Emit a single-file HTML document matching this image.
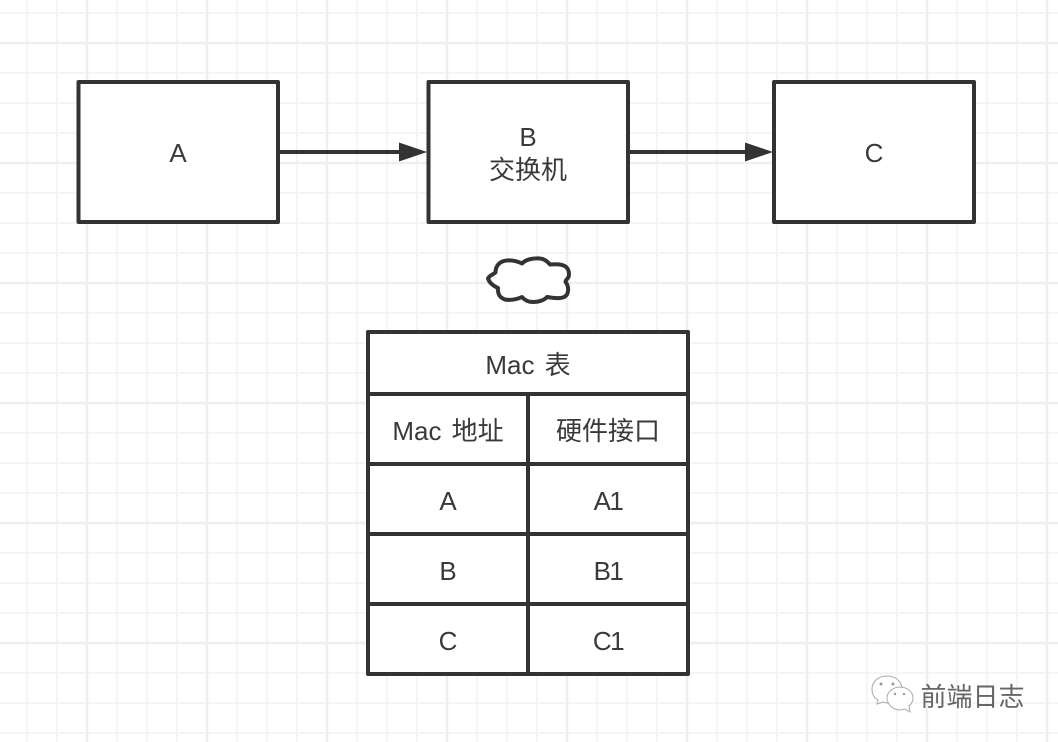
<!DOCTYPE html>
<html><head><meta charset="utf-8"><style>
html,body{margin:0;padding:0;background:#fff}
svg{display:block}
text{font-family:"Liberation Sans","Noto Sans CJK SC",sans-serif;font-size:26px;fill:#3a3a3a;text-anchor:middle}
.m{word-spacing:3px}
.d{letter-spacing:-1.500px}
</style></head><body>
<svg width="1058" height="742" viewBox="0 0 1058 742" xmlns="http://www.w3.org/2000/svg">
<defs>
<pattern id="g" width="30" height="30" patternUnits="userSpaceOnUse" x="12" y="-2">
<path d="M15 0V30M0 15H30" stroke="#f5f5f5" stroke-width="2" fill="none"/>
</pattern>
<pattern id="G" width="120" height="120" patternUnits="userSpaceOnUse" x="27" y="-17">
<path d="M60 0V120M0 60H120" stroke="#efefef" stroke-width="2.500" fill="none"/>
</pattern>
</defs>
<rect width="1058" height="742" fill="#fff"/>
<rect width="1058" height="742" fill="url(#g)"/>
<rect width="1058" height="742" fill="url(#G)"/>
<g fill="#fff" stroke="#333" stroke-width="4" stroke-linejoin="round">
<rect x="78.500" y="82" width="199.500" height="140"/>
<rect x="428.500" y="82" width="199.500" height="140"/>
<rect x="774" y="82" width="200" height="140"/>
</g>
<g stroke="#333" stroke-width="4" fill="none">
<path d="M280 152H402"/><path d="M630 152H748"/>
</g>
<path d="M399 142.500L427 152L399 161.500Z M745 142.500L773 152L745 161.500Z" fill="#333"/>
<path d="M488 278.500C489.500 275.500 493 274.500 495.500 272.500C495.500 265.500 500 261 507 260.500C513 260 518 261.500 522 263.500C526 259 534 258 540 258.500C545 259 548 262 550 264.500C555 264 562 264 565.500 266.500C569 269 569.500 274 568.500 277C567.500 279 565.500 280 565.500 282C567.500 284 568.500 288 568 291C567.500 295.500 565 297.500 560 298C555 298.500 550 297.500 547 297C544 300.500 538 302 533 302C528 302 524 299.500 522 297C517 299.500 510 300.500 505 299.500C499.500 297.500 497.500 294 498 288C493.500 286 489.500 283 488 278.500Z" fill="#fff" stroke="#333" stroke-width="4" stroke-linejoin="round"/>
<g fill="#fff" stroke="#333" stroke-width="4" stroke-linejoin="round">
<rect x="368" y="332" width="320" height="342"/>
<path d="M368 394H688M368 464H688M368 534H688M368 604H688M528 394V674" fill="none"/>
</g>
<text x="178" y="162">A</text>
<text x="528" y="146">B</text>
<text x="528" y="179">交换机</text>
<text x="874" y="162">C</text>
<text class="m" x="528" y="374">Mac 表</text>
<text class="m" x="448" y="440">Mac 地址</text>
<text x="608" y="440">硬件接口</text>
<text x="448" y="510">A</text><text class="d" x="608" y="510">A1</text>
<text x="448" y="580">B</text><text class="d" x="608" y="580">B1</text>
<text x="448" y="650">C</text><text class="d" x="608" y="650">C1</text>
<g fill="#fff" stroke="#aaa" stroke-width="1">
<path d="M887 676C878 676 872 682 872 689C872 694 874 698 878 700L877 704L883 702C884 702 886 703 888 703C897 703 902 696 902 689C902 682 896 676 887 676Z"/>
<path d="M900 687C893 687 887 692 887 698C887 704 893 710 900 710C902 710 904 709 905 709L910 712L909 706C911 704 913 702 913 698C913 692 907 687 900 687Z"/>
</g>
<g fill="#999"><circle cx="881" cy="684" r="1.500"/><circle cx="893" cy="684" r="1.500"/><circle cx="895" cy="694" r="1.200"/><circle cx="904" cy="694" r="1.200"/></g>
<text x="972.500" y="706" style="font-size:26px;fill:#666">前端日志</text>
</svg>
</body></html>
